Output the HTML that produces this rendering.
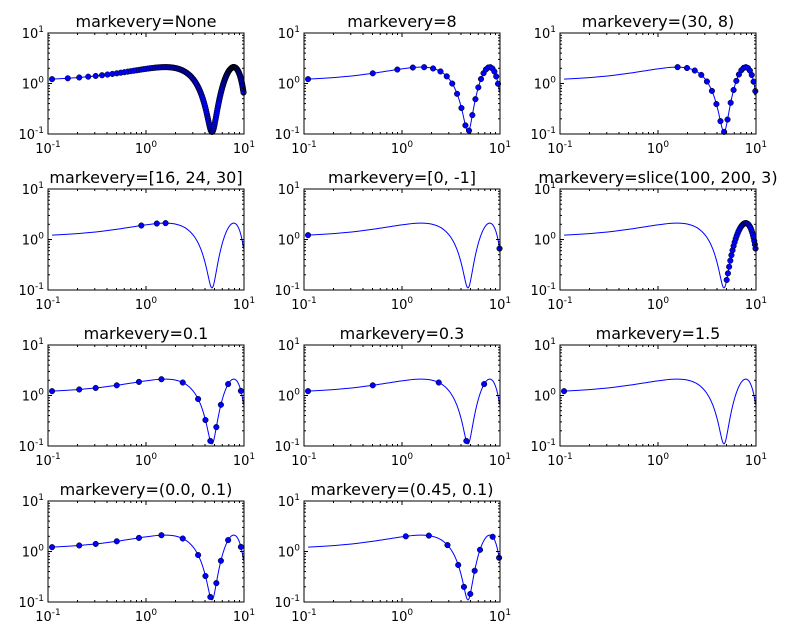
<!DOCTYPE html><html><head><style>body{margin:0;background:#fff}svg{display:block}text{font-family:"DejaVu Sans","Liberation Sans",sans-serif}</style></head><body>
<svg id="s" width="800" height="640" xmlns="http://www.w3.org/2000/svg"></svg>
<script>
const S=document.getElementById('s');let h='';
const d=0.11,N=200,X=[],Y=[];
for(let i=0;i<N;i++){const x=d+i*(10-2*d)/(N-1);X.push(x);Y.push(Math.sin(x)+1+d);}
const cases=[['None',null],['8',{s:0,st:8}],['(30, 8)',{s:30,st:8}],['[16, 24, 30]',[16,24,30]],['[0, -1]',[0,N-1]],['slice(100, 200, 3)',{s:100,st:3}],['0.1',{f:0,fs:0.1}],['0.3',{f:0,fs:0.3}],['1.5',{f:0,fs:1.5}],['(0.0, 0.1)',{f:0,fs:0.1}],['(0.45, 0.1)',{f:0.45,fs:0.1}]];
const W=196,H=101,L=[48,304,560],T=[33,189,345,501];
function lab(x,y,e,anchor){h+=`<text x="${x}" y="${y}" font-size="13" text-anchor="${anchor}">10<tspan font-size="9" dy="-6">${e}</tspan></text>`;}
cases.forEach((c,k)=>{const l=L[k%3],t=T[Math.floor(k/3)];
const px=x=>l+(Math.log10(x)+1)/2*W,py=y=>t+H-(Math.log10(y)+1)/2*H;
const P=X.map((x,i)=>[px(x),py(Y[i])]);
h+=`<text x="${l+W/2}" y="${t-6}" font-size="16" text-anchor="middle">markevery=${c[0]}</text>`;
h+=`<svg x="${l}" y="${t}" width="${W}" height="${H}" overflow="hidden"><polyline fill="none" stroke="#00f" stroke-width="1" points="${P.map(p=>(p[0]-l).toFixed(2)+','+(p[1]-t).toFixed(2)).join(' ')}"/></svg>`;
let idx=[];const m=c[1];
if(m===null)idx=[...Array(N).keys()];
else if(Array.isArray(m))idx=m;
else if(m.st){for(let i=m.s;i<N;i+=m.st)idx.push(i);}
else{const cd=[0];for(let i=1;i<N;i++)cd.push(cd[i-1]+Math.hypot(P[i][0]-P[i-1][0],P[i][1]-P[i-1][1]));
const sc=Math.hypot(W,H),set=new Set();for(let tg=m.f*sc;tg<cd[N-1];tg+=m.fs*sc){let b=0,bd=1e9;cd.forEach((v,i)=>{if(Math.abs(v-tg)<bd){bd=Math.abs(v-tg);b=i;}});set.add(b);}idx=[...set];}
idx.forEach(i=>{const p=P[i];if(p[1]<=t+H+3)h+=`<circle cx="${p[0].toFixed(2)}" cy="${p[1].toFixed(2)}" r="2.8" fill="#00f" stroke="#000" stroke-width="0.5"/>`;});
// ticks
for(let e=-1;e<=1;e++){for(let j=1;j<=9;j++){const v=Math.pow(10,e)*j;if(v>10.0001)break;const len=j==1?4:2;
const xx=px(v),yy=py(v);
h+=`<line x1="${xx}" y1="${t+H}" x2="${xx}" y2="${t+H-len}" stroke="#000"/><line x1="${xx}" y1="${t}" x2="${xx}" y2="${t+len}" stroke="#000"/>`;
h+=`<line x1="${l}" y1="${yy}" x2="${l+len}" y2="${yy}" stroke="#000"/><line x1="${l+W}" y1="${yy}" x2="${l+W-len}" y2="${yy}" stroke="#000"/>`;}
lab(px(Math.pow(10,e)),t+H+19,e,'middle');lab(l-4,py(Math.pow(10,e))+5,e,'end');}
h+=`<rect x="${l}" y="${t}" width="${W}" height="${H}" fill="none" stroke="#000" stroke-width="1"/>`;
});
S.innerHTML=h;
</script></body></html>
